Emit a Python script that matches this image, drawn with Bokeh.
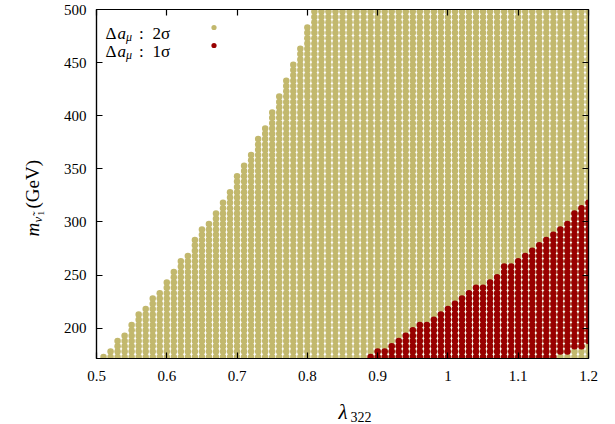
import numpy as np
from bokeh.plotting import figure
from bokeh.layouts import row, column
from bokeh.models import Range1d, LinearAxis, FixedTicker, Label, Legend, LegendItem, ColumnDataSource
from bokeh.embed import file_html
from bokeh.resources import INLINE
from bokeh.core.properties import value

# ---------------- data ----------------
lam_cols = [0.51, 0.52, 0.53, 0.54, 0.55, 0.56, 0.57, 0.58, 0.59, 0.60,
            0.61, 0.62, 0.63, 0.64, 0.65, 0.66, 0.67, 0.68, 0.69, 0.70,
            0.71, 0.72, 0.73, 0.74, 0.75, 0.76, 0.77, 0.78, 0.79, 0.80,
            0.81, 0.82, 0.83, 0.84, 0.85, 0.86, 0.87, 0.88, 0.89, 0.90,
            0.91, 0.92, 0.93, 0.94, 0.95, 0.96, 0.97, 0.98, 0.99, 1.00,
            1.01, 1.02, 1.03, 1.04, 1.05, 1.06, 1.07, 1.08, 1.09, 1.10,
            1.11, 1.12, 1.13, 1.14, 1.15, 1.16, 1.17, 1.18, 1.19, 1.20]

m_rows = [173, 178, 183, 188, 193, 198, 203, 208, 213, 218,
          223, 228, 233, 238, 243, 248, 253, 258, 263, 268,
          273, 278, 283, 288, 293, 298, 303, 308, 313, 318,
          323, 328, 333, 338, 343, 348, 353, 358, 363, 368,
          373, 378, 383, 388, 393, 398, 403, 408, 413, 418,
          423, 428, 433, 438, 443, 448, 453, 458, 463, 468,
          473, 478, 483, 488, 493, 498]

# upper edge of the 2-sigma region for each lambda column
gold_max = [173, 178, 188, 193, 203, 213, 218, 228, 233, 243,
            253, 263, 268, 283, 293, 298, 308, 318, 328, 343,
            353, 363, 378, 388, 403, 418, 433, 448, 463, 483,
            498, 498, 498, 498, 498, 498, 498, 498, 498, 498,
            498, 498, 498, 498, 498, 498, 498, 498, 498, 498,
            498, 498, 498, 498, 498, 498, 498, 498, 498, 498,
            498, 498, 498, 498, 498, 498, 498, 498, 498, 498]

# 1-sigma region: lambda columns with lower and upper mass edges
red_cols = [0.89, 0.90, 0.91, 0.92, 0.93, 0.94, 0.95, 0.96, 0.97, 0.98,
            0.99, 1.00, 1.01, 1.02, 1.03, 1.04, 1.05, 1.06, 1.07, 1.08,
            1.09, 1.10, 1.11, 1.12, 1.13, 1.14, 1.15, 1.16, 1.17, 1.18,
            1.19, 1.20]
red_min = [173, 173, 173, 173, 173, 173, 173, 173, 173, 173,
           173, 173, 173, 173, 173, 173, 173, 173, 173, 173,
           173, 173, 173, 173, 173, 173, 173, 178, 178, 183,
           183, 188]
red_max = [173, 178, 178, 183, 188, 193, 198, 203, 203, 208,
           213, 218, 223, 228, 233, 238, 238, 243, 248, 258,
           258, 263, 268, 273, 278, 283, 288, 293, 298, 308,
           313, 318]

x_ticks = [0.5, 0.6, 0.7, 0.8, 0.9, 1.0, 1.1, 1.2]
x_tick_labels = ["0.5", "0.6", "0.7", "0.8", "0.9", "1", "1.1", "1.2"]
y_ticks = [200, 250, 300, 350, 400, 450, 500]
y_tick_labels = ["200", "250", "300", "350", "400", "450", "500"]
sig_labels = ["2σ", "1σ"]

GOLD = "#c2b86d"
RED = "#980000"
FONT = "Liberation Serif"

# ---------------- build point sets ----------------
gx, gy = [], []
for x, top in zip(lam_cols, gold_max):
    for m in m_rows:
        if m <= top:
            gx.append(x)
            gy.append(m)
rx, ry = [], []
for x, lo, hi in zip(red_cols, red_min, red_max):
    for m in m_rows:
        if lo <= m <= hi:
            rx.append(x)
            ry.append(m)

gsrc = ColumnDataSource(dict(x=gx, y=gy))
rsrc = ColumnDataSource(dict(x=rx, y=ry))

# page geometry (615 x 424)
W, H = 615, 424
YLW = 56           # width of the y-label strip
XLH = 32           # height of the x-label strip
PW, PH = W - YLW, H - XLH
FL, FR, FT, FB = 96, 588, 9, 358   # frame edges in page pixels

p = figure(width=PW, height=PH, x_range=Range1d(0.5, 1.2), y_range=Range1d(171.5, 500),
           output_backend="svg", toolbar_location=None,
           min_border_left=FL - YLW, min_border_right=W - FR,
           min_border_top=FT, min_border_bottom=PH - FB)
p.background_fill_color = "white"
p.border_fill_color = "white"
p.outline_line_color = "black"
p.outline_line_width = 1.2
p.xgrid.visible = False
p.ygrid.visible = False

g_r = p.scatter("x", "y", source=gsrc, size=6.5, marker="circle",
                fill_color=GOLD, line_color=None)
r_r = p.scatter("x", "y", source=rsrc, size=6.5, marker="circle",
                fill_color=RED, line_color=None)

bottom_ax = p.below[0]
left_ax = p.left[0]
top_ax = LinearAxis()
right_ax = LinearAxis()
p.add_layout(top_ax, "above")
p.add_layout(right_ax, "right")

for ax in [bottom_ax, top_ax]:
    ax.ticker = FixedTicker(ticks=x_ticks)
for ax in [left_ax, right_ax]:
    ax.ticker = FixedTicker(ticks=y_ticks)

for ax in [bottom_ax, left_ax, top_ax, right_ax]:
    ax.axis_line_color = "black"
    ax.axis_line_width = 1.2
    ax.major_tick_in = 6
    ax.major_tick_out = 0
    ax.major_tick_line_color = "black"
    ax.major_tick_line_width = 1.2
    ax.minor_tick_line_color = None
    ax.major_label_text_font = FONT
    ax.major_label_text_font_style = "normal"
    ax.major_label_text_font_size = "15px"
    ax.major_label_text_color = "black"

bottom_ax.major_label_overrides = {t: l for t, l in zip(x_ticks, x_tick_labels)}
left_ax.major_label_overrides = {t: l for t, l in zip(y_ticks, y_tick_labels)}
bottom_ax.major_label_standoff = 12
left_ax.major_label_standoff = 10
for ax, ticks in [(top_ax, x_ticks), (right_ax, y_ticks)]:
    ax.major_label_overrides = {t: "" for t in ticks}
    ax.major_label_text_font_size = "0px"
    ax.major_label_standoff = 0

# ---------------- legend (symbols on the right of the text) ----------------
leg = Legend(items=[LegendItem(label=value(""), renderers=[g_r]),
                    LegendItem(label=value(""), renderers=[r_r])],
             location=(110.5, 305), padding=0, margin=0, spacing=2,
             glyph_width=13, glyph_height=16, label_height=16, label_width=1,
             label_standoff=0, label_text_font_size="1px",
             background_fill_alpha=0, border_line_color=None)
p.add_layout(leg, "center")

def lab(fig, ox, oy, x, y, text, size, style="normal", angle=0.0):
    fig.add_layout(Label(x=x - ox, y=oy - y, x_units="screen", y_units="screen",
                         text=text, text_font=FONT, text_font_size=f"{size}px",
                         text_font_style=style, text_color="black",
                         text_align="left", text_baseline="alphabetic", angle=angle))

for i, s in enumerate(sig_labels):
    by = 33 + 18 * i
    lab(p, FL, FB, 105, by, "Δ", 17)
    lab(p, FL, FB, 117, by, "a", 17, "italic")
    lab(p, FL, FB, 125.5, by + 3, "μ", 12, "italic")
    lab(p, FL, FB, 138.5, by, ":", 17)
    lab(p, FL, FB, 152, by, s, 17)

def strip(w, h):
    f = figure(width=w, height=h, x_range=Range1d(0, 1), y_range=Range1d(0, 1),
               output_backend="svg", toolbar_location=None,
               x_axis_location=None, y_axis_location=None,
               min_border_left=0, min_border_right=0, min_border_top=0, min_border_bottom=0)
    f.outline_line_color = None
    f.background_fill_color = "white"
    f.border_fill_color = "white"
    f.xgrid.visible = False
    f.ygrid.visible = False
    return f

# x axis label  lambda_322 (strip below the plot; its frame lines up with the plot frame)
xl = strip(PW, XLH)
lab(xl, FL, H, 338, 411, "λ", 21, "italic")
lab(xl, FL, H, 350, 416, "322", 14)

# y axis label  m_{nu~1} (GeV), rotated, in a strip left of the plot
yl = strip(YLW, H)
ang = np.pi / 2
lab(yl, 0, H, 32, 236, "m", 19, "italic", ang)
lab(yl, 0, H, 37, 222, "ν\u0303", 13, "italic", ang)
lab(yl, 0, H, 40, 215, "1", 9, "normal", ang)
lab(yl, 0, H, 32, 208, "(GeV)", 19, "normal", ang)

layout = row(yl, column(p, xl, spacing=0), spacing=0)
open("out.html", "w").write(file_html(layout, INLINE))
